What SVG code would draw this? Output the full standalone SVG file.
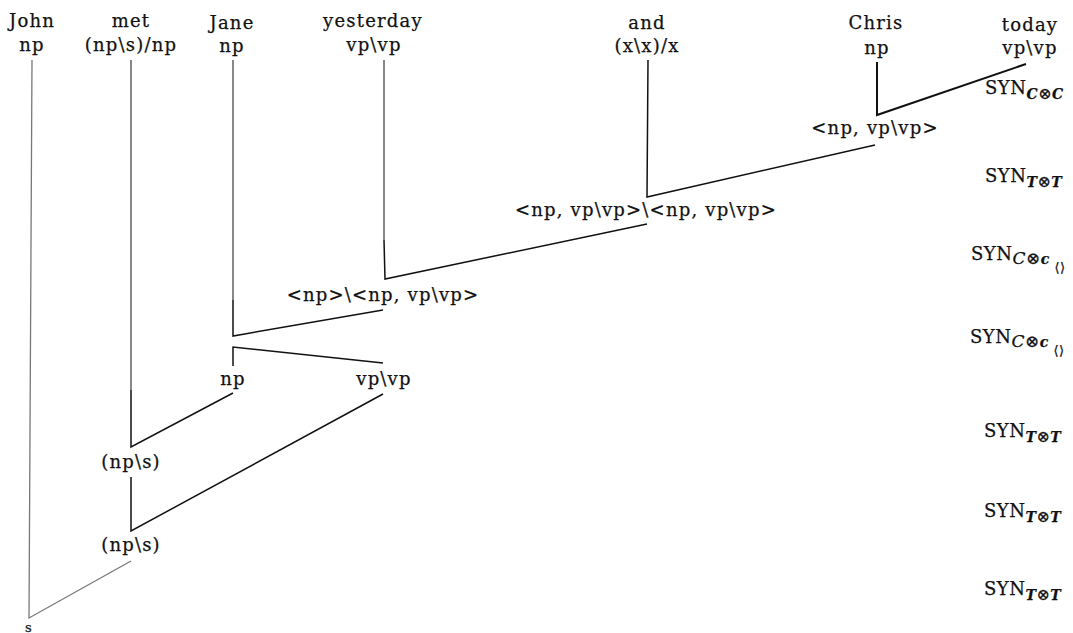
<svg xmlns="http://www.w3.org/2000/svg" width="1073" height="633" viewBox="0 0 1073 633">
  <style>
    .t { font-family: "DejaVu Serif", "Liberation Serif", serif; font-size: 18px; letter-spacing: 1.2px; fill: #111; stroke: #111; stroke-width: 0.25; text-anchor: middle; }
    .syn { font-family: "DejaVu Serif", "Liberation Serif", serif; font-size: 18px; letter-spacing: 0.5px; fill: #111; stroke: #111; stroke-width: 0.25; }
    .sub { font-style: italic; font-weight: bold; font-size: 14px; }
    .ot { font-style: normal; font-weight: normal; font-size: 16px; }
    .e { stroke: #111; stroke-width: 1.5; fill: none; }
    .v { stroke: #555; stroke-width: 1.4; fill: none; }
    .g { stroke: #777; stroke-width: 1.3; fill: none; }
  </style>
  <rect width="1073" height="633" fill="#fff"/>

  <!-- connectors -->
  <g id="connectors">
    <!-- John: np -> s -->
    <path class="g" d="M32 60 L29 618 L131 561"/>
    <!-- met + Jane's np -> (np\s) -->
    <path class="v" d="M131 60 L131 390"/>
    <path class="e" d="M131 390 L131 447 L233 393"/>
    <!-- (np\s) + vp\vp -> (np\s) -->
    <path class="e" d="M131 477 L131 531 L383 394"/>
    <!-- Jane -> <np>\<np, vp\vp> -->
    <path class="v" d="M233 60 L233 300"/>
    <path class="e" d="M233 300 L233 336 L383 310"/>
    <!-- split into np and vp\vp -->
    <path class="e" d="M233 366 L233 347 L383 363"/>
    <!-- yesterday -> coordination -->
    <path class="v" d="M384 60 L384 240"/>
    <path class="e" d="M384 240 L385 279 L647 224"/>
    <!-- and -> <np, vp\vp> -->
    <path class="e" d="M648 60 L647 197 L875 145"/>
    <!-- Chris + today -->
    <path class="e" d="M877 62 L877 115 L1026 64" style="stroke-width:2"/>
  </g>

  <!-- lexical items -->
  <g id="w-john"><text class="t" x="32" y="27">John</text><text class="t" x="32" y="51">np</text></g>
  <g id="w-met"><text class="t" x="131" y="27">met</text><text class="t" x="131" y="51">(np\s)/np</text></g>
  <g id="w-jane"><text class="t" x="232" y="29">Jane</text><text class="t" x="232" y="52">np</text></g>
  <g id="w-yesterday"><text class="t" x="373" y="27">yesterday</text><text class="t" x="374" y="51">vp\vp</text></g>
  <g id="w-and"><text class="t" x="647" y="29">and</text><text class="t" x="647" y="52">(x\x)/x</text></g>
  <g id="w-chris"><text class="t" x="876" y="29">Chris</text><text class="t" x="877" y="54">np</text></g>
  <g id="w-today"><text class="t" x="1030" y="31">today</text><text class="t" x="1030" y="54">vp\vp</text></g>

  <!-- derived categories -->
  <g id="n-pair"><text class="t" x="875" y="134">&lt;np, vp\vp&gt;</text></g>
  <g id="n-coord"><text class="t" x="646" y="216">&lt;np, vp\vp&gt;\&lt;np, vp\vp&gt;</text></g>
  <g id="n-np-pair"><text class="t" x="383" y="301">&lt;np&gt;\&lt;np, vp\vp&gt;</text></g>
  <g id="n-np"><text class="t" x="233" y="385">np</text></g>
  <g id="n-vpvp"><text class="t" x="384" y="385">vp\vp</text></g>
  <g id="n-vp1"><text class="t" x="131" y="468">(np\s)</text></g>
  <g id="n-vp2"><text class="t" x="131" y="551">(np\s)</text></g>
  <g id="n-s"><text class="t" x="29" y="632" style="font-size:13px">s</text></g>

  <!-- rule labels -->
  <g id="rules">
    <text class="syn" x="985" y="94">SYN<tspan class="sub" dy="5">C<tspan class="ot">⊗</tspan>C</tspan></text>
    <text class="syn" x="985" y="182">SYN<tspan class="sub" dy="5">T<tspan class="ot">⊗</tspan>T</tspan></text>
    <text class="syn" x="971" y="260">SYN<tspan dy="4" style="font-style:italic;font-size:17px">C⊗</tspan><tspan class="sub">c</tspan><tspan dy="8" style="font-size:13px"> ⟨⟩</tspan></text>
    <text class="syn" x="970" y="343">SYN<tspan dy="4" style="font-style:italic;font-size:17px">C⊗</tspan><tspan class="sub">c</tspan><tspan dy="8" style="font-size:13px"> ⟨⟩</tspan></text>
    <text class="syn" x="984" y="437">SYN<tspan class="sub" dy="5">T<tspan class="ot">⊗</tspan>T</tspan></text>
    <text class="syn" x="984" y="517">SYN<tspan class="sub" dy="5">T<tspan class="ot">⊗</tspan>T</tspan></text>
    <text class="syn" x="984" y="595">SYN<tspan class="sub" dy="5">T<tspan class="ot">⊗</tspan>T</tspan></text>
  </g>
</svg>
